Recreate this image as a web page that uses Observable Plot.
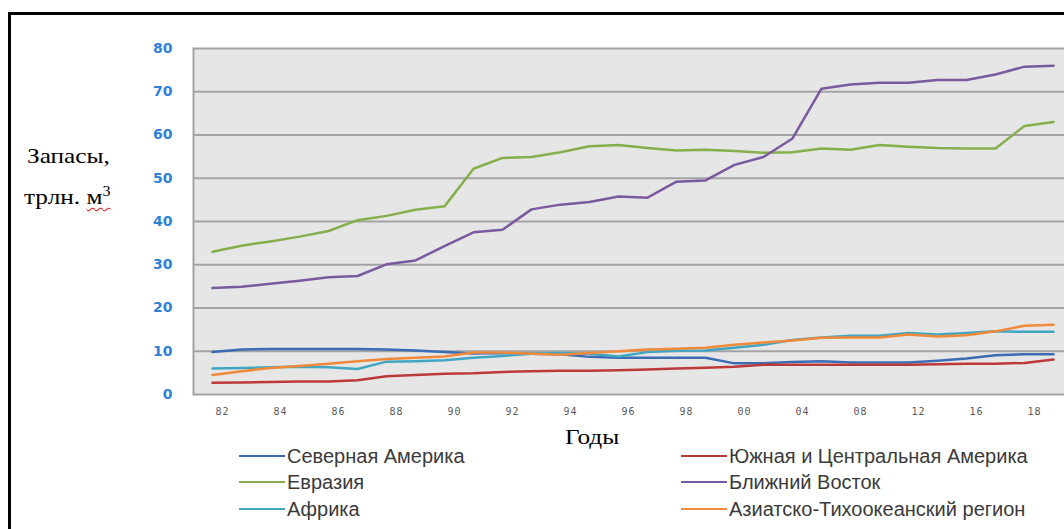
<!DOCTYPE html>
<html>
<head>
<meta charset="utf-8">
<script src="https://cdn.jsdelivr.net/npm/d3@7"></script>
<script src="https://cdn.jsdelivr.net/npm/@observablehq/plot@0.6"></script>
<style>
  html, body { margin: 0; padding: 0; background: #fff; }
  body { width: 1064px; height: 529px; overflow: hidden; position: relative; }
  #border { position: absolute; left: 8px; top: 12px; width: 1120px; height: 600px; border: 3px solid #000; box-sizing: border-box; }
  #chart { position: absolute; left: 0; top: 0; }
  .serif { position: absolute; font-family: "Liberation Serif", "Times New Roman", serif; font-size: 22px; color: #000; white-space: nowrap; transform-origin: left center; transform: scaleX(1.15); }
  .wavy { text-decoration: underline wavy #e02020; text-decoration-thickness: 1px; text-underline-offset: 3px; }
  #legend { position: absolute; left: 0; top: 0; font-family: "Liberation Sans", Arial, sans-serif; font-size: 20px; color: #3a3a3a; }
  .item { position: absolute; display: flex; align-items: center; white-space: nowrap; }
  .item .sw { width: 46px; height: 2.5px; margin-right: 2px; }
</style>
</head>
<body>
<div id="border"></div>
<div id="chart"></div>
<div class="serif" style="left:27px; top:143px;">Запасы,</div>
<div class="serif" style="left:24px; top:184px;">трлн. <span class="wavy">м<sup style="font-size:14px; vertical-align: 8px;">3</sup></span></div>
<div class="serif" style="left:565px; top:424px;">Годы</div>
<div id="legend"></div>
<script>
// Categories (years as plotted in the original)
const years = ["1982","1983","1984","1985","1986","1987","1988","1989","1990","1991",
  "1992","1993","1994","1995","1996","1997","1998","1999","2000","2002",
  "2004","2006","2008","2010","2012","2014","2016","2017","2018","2019"];

// Series values, trillion m³
const northAmerica = [9.8,10.4,10.5,10.5,10.5,10.5,10.4,10.2,9.8,9.5,
  9.6,9.4,9.3,8.7,8.5,8.5,8.5,8.5,7.2,7.2,
  7.5,7.7,7.4,7.4,7.4,7.8,8.3,9.1,9.3,9.3];
const southCentralAmerica = [2.7,2.8,2.9,3.0,3.0,3.3,4.2,4.5,4.8,4.9,
  5.2,5.4,5.5,5.5,5.6,5.8,6.0,6.2,6.4,6.9,
  6.9,6.9,6.9,6.9,6.9,7.0,7.1,7.1,7.3,8.1];
const eurasia = [33.0,34.4,35.4,36.5,37.8,40.3,41.3,42.7,43.5,52.2,
  54.7,54.9,56.0,57.4,57.7,57.0,56.4,56.6,56.3,55.9,
  56.0,56.9,56.6,57.7,57.3,57.0,56.9,56.9,62.1,63.0];
const middleEast = [24.6,24.9,25.6,26.3,27.1,27.4,30.1,31.0,34.3,37.5,
  38.1,42.8,43.9,44.5,45.8,45.5,49.2,49.5,53.1,54.9,
  59.2,70.7,71.7,72.1,72.1,72.7,72.7,74.0,75.8,76.0];
const africa = [6.0,6.1,6.3,6.4,6.3,5.9,7.6,7.7,7.9,8.5,
  8.9,9.4,9.6,9.4,8.8,9.8,10.1,10.2,10.8,11.5,
  12.6,13.2,13.6,13.6,14.2,13.9,14.2,14.6,14.5,14.5];
const asiaPacific = [4.5,5.4,6.1,6.6,7.1,7.7,8.2,8.5,8.8,9.7,
  9.7,9.4,9.2,9.6,10.0,10.4,10.6,10.8,11.5,12.0,
  12.5,13.1,13.2,13.2,13.9,13.4,13.7,14.6,15.9,16.1];

const seriesNames = ["Северная Америка","Южная и Центральная Америка","Евразия",
  "Ближний Восток","Африка","Азиатско-Тихоокеанский регион"];
const seriesValues = [northAmerica, southCentralAmerica, eurasia, middleEast, africa, asiaPacific];
const seriesColors = ["#3b6cb4","#bb3a38","#86ae4c","#7a5a9e","#40a6c2","#f08a3a"];

const yTicks = [0,10,20,30,40,50,60,70,80];
const xTickYears = years.filter((_, i) => i % 2 === 0);

const data = seriesNames.flatMap((name, s) =>
  years.map((year, i) => ({series: name, year, value: seriesValues[s][i]})));

const chart = Plot.plot({
  width: 1080,
  height: 426,
  marginLeft: 193,
  marginRight: 9,
  marginTop: 48,
  marginBottom: 32,
  style: {background: "transparent", overflow: "visible", maxWidth: "none"},
  x: {type: "point", domain: years, padding: 0.5},
  y: {domain: [0, 80]},
  color: {domain: seriesNames, range: seriesColors},
  marks: [
    Plot.frame({fill: "#e6e6e6", stroke: null}),
    Plot.ruleY(yTicks, {stroke: "#a3a3a3", strokeWidth: 2}),
    Plot.frame({anchor: "left", stroke: "#a3a3a3", strokeWidth: 2}),
    Plot.axisY(yTicks, {tickSize: 0, tickPadding: 21, fontSize: 14, fontWeight: "bold",
      fontFamily: "DejaVu Sans", fill: "#2f82d6", label: null}),
    Plot.axisX(xTickYears, {tickSize: 0, tickPadding: 13, dx: 10, fontSize: 10, fontFamily: "DejaVu Sans Mono",
      fill: "#5a5a5a", tickFormat: d => d.slice(2), label: null}),
    Plot.lineY(data, {x: "year", y: "value", stroke: "series", strokeWidth: 2.5})
  ]
});
chart.style.maxWidth = "none";
document.getElementById("chart").appendChild(chart);
chart.querySelectorAll("g[aria-label='x-axis tick label'] text").forEach(t => t.setAttribute("letter-spacing", "1"));

// Legend (two columns)
const legend = document.getElementById("legend");
const colX = [239, 681];
const rowY = [456, 482, 509];
seriesNames.forEach((name, i) => {
  const el = document.createElement("div");
  el.className = "item";
  el.style.left = colX[i % 2] + "px";
  el.style.top = (rowY[Math.floor(i / 2)] - 12) + "px";
  el.style.height = "24px";
  const sw = document.createElement("span");
  sw.className = "sw";
  sw.style.background = seriesColors[i];
  const tx = document.createElement("span");
  tx.textContent = name;
  el.appendChild(sw);
  el.appendChild(tx);
  legend.appendChild(el);
});
</script>
</body>
</html>
